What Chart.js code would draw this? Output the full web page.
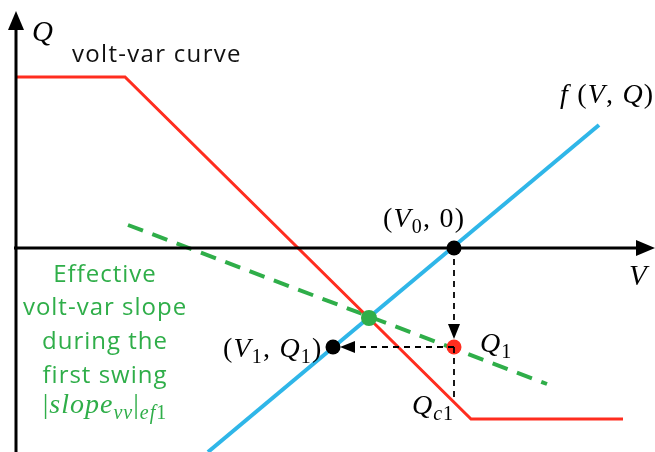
<!DOCTYPE html>
<html>
<head>
<meta charset="utf-8">
<script src="https://cdn.jsdelivr.net/npm/chart.js@4/dist/chart.umd.min.js"></script>
<style>
html,body{margin:0;padding:0;background:#fff;}
#wrap{width:655px;height:452px;position:relative;}
</style>
</head>
<body>
<div id="wrap"><canvas id="c"></canvas></div>
<script>
// ---- data (V, Q) in diagram units; origin at axis crossing ----
const voltVarV = [0, 109, 455, 607];
const voltVarQ = [171, 171, -171, -171];
const fLineV = [192, 583];
const fLineQ = [-204, 123];
const effSlopeV = [112, 531];
const effSlopeQ = [23, -136];
const V0 = 438, V1 = 317, Q1 = -99, Qc1 = -152;
const opV = [353], opQ = [-70];      // operating crossing point (green)

const zip = (xs, ys) => xs.map((x, i) => ({x, y: ys[i]}));

const RED = '#ff2d1f', BLUE = '#2fb6e8', GREEN = '#2fae49';

const overlay = {
  id: 'overlay',
  afterDatasetsDraw(chart) {
    const ctx = chart.ctx, xs = chart.scales.x, ys = chart.scales.y;
    const px = v => xs.getPixelForValue(v), py = q => ys.getPixelForValue(q);
    ctx.save();
    // axes
    ctx.strokeStyle = '#000'; ctx.fillStyle = '#000'; ctx.lineWidth = 3;
    ctx.beginPath(); ctx.moveTo(px(0), py(-210)); ctx.lineTo(px(0), py(220)); ctx.stroke();
    ctx.beginPath(); ctx.moveTo(px(-2), py(0)); ctx.lineTo(px(625), py(0)); ctx.stroke();
    // axis arrowheads
    ctx.beginPath(); ctx.moveTo(px(0), py(237)); ctx.lineTo(px(0) - 8, py(237) + 19); ctx.lineTo(px(0) + 8, py(237) + 19); ctx.closePath(); ctx.fill();
    ctx.beginPath(); ctx.moveTo(px(639), py(0)); ctx.lineTo(px(639) - 19, py(0) - 8); ctx.lineTo(px(639) - 19, py(0) + 8); ctx.closePath(); ctx.fill();
    // dashed guides
    ctx.lineWidth = 1.8; ctx.setLineDash([6, 5]);
    ctx.beginPath(); ctx.moveTo(px(V0), py(0)); ctx.lineTo(px(V0), py(Q1) - 14); ctx.stroke();
    ctx.beginPath(); ctx.moveTo(px(V0), py(Q1)); ctx.lineTo(px(V0), py(Qc1)); ctx.stroke();
    ctx.beginPath(); ctx.moveTo(px(V0), py(Q1)); ctx.lineTo(px(V1) + 18, py(Q1)); ctx.stroke();
    ctx.setLineDash([]);
    // arrowheads of guides
    let tx = px(V0), ty = py(Q1) - 8;
    ctx.beginPath(); ctx.moveTo(tx, ty); ctx.lineTo(tx - 6, ty - 15); ctx.lineTo(tx + 6, ty - 15); ctx.closePath(); ctx.fill();
    tx = px(V1) + 7; ty = py(Q1);
    ctx.beginPath(); ctx.moveTo(tx, ty); ctx.lineTo(tx + 15, ty - 6); ctx.lineTo(tx + 15, ty + 6); ctx.closePath(); ctx.fill();
    ctx.restore();
  },
  afterDraw(chart) {
    const ctx = chart.ctx, xs = chart.scales.x, ys = chart.scales.y;
    const px = v => xs.getPixelForValue(v), py = q => ys.getPixelForValue(q);
    const MATH = '"Liberation Serif", "DejaVu Serif", serif';
    const SANS = '"Open Sans", "Noto Sans", sans-serif';
    function rich(parts, x, y, size, color, align, spacing) {
      // parts: [text, kind] kind: 'i' italic, 'r' roman, 's' subscript italic, 'sr' subscript roman
      ctx.save();
      ctx.fillStyle = color; ctx.textBaseline = 'alphabetic'; ctx.textAlign = 'left';
      ctx.letterSpacing = (spacing || 0) + 'px';
      const fontOf = k => {
        const sub = k[0] === 's';
        const ital = (k === 'i' || k === 's');
        return (ital ? 'italic ' : '') + Math.round(sub ? size * 0.7 : size) + 'px ' + MATH;
      };
      let w = 0;
      parts.forEach(p => { ctx.font = fontOf(p[1]); w += ctx.measureText(p[0]).width; });
      let cx = align === 'center' ? x - w / 2 : x;
      parts.forEach(p => {
        ctx.font = fontOf(p[1]);
        const off = p[1][0] === 's' ? size * 0.22 : 0;
        ctx.fillText(p[0], cx, y + off);
        cx += ctx.measureText(p[0]).width;
      });
      ctx.restore();
    }
    ctx.save();
    // axis names
    rich([['Q', 'i']], px(0) + 16, py(0) - 207, 29, '#000');
    rich([['V', 'i']], px(0) + 613, py(0) + 37, 29, '#000');
    // volt-var curve title
    ctx.font = '24px ' + SANS; ctx.fillStyle = '#111'; ctx.textAlign = 'left'; ctx.textBaseline = 'alphabetic';
    ctx.letterSpacing = '1.3px';
    ctx.fillText('volt-var curve', px(0) + 56, py(0) - 186);
    rich([['f', 'i'], [' (', 'r'], ['V', 'i'], [', ', 'r'], ['Q', 'i'], [')', 'r']], px(0) + 544, py(0) - 145, 28, '#000', 'left', 1.2);
    rich([['(', 'r'], ['V', 'i'], ['0', 'sr'], [', 0)', 'r']], px(0) + 367, py(0) - 21, 28, '#000', 'left', 1.2);
    rich([['(', 'r'], ['V', 'i'], ['1', 'sr'], [', ', 'r'], ['Q', 'i'], ['1', 'sr'], [')', 'r']], px(0) + 207, py(0) + 109, 28, '#000', 'left', 1.2);
    rich([['Q', 'i'], ['1', 'sr']], px(0) + 464, py(0) + 104, 28, '#000', 'left', 1);
    rich([['Q', 'i'], ['c', 's'], ['1', 'sr']], px(0) + 396, py(0) + 166, 28, '#000', 'left', 1);
    // green annotation
    ctx.font = '24px ' + SANS; ctx.fillStyle = GREEN; ctx.textAlign = 'center';
    ctx.letterSpacing = '1px';
    const cxg = px(0) + 89;
    [['Effective', 34], ['volt-var slope', 67], ['during the', 101], ['first swing', 135]].forEach(t => {
      ctx.fillText(t[0], cxg, py(0) + t[1]);
    });
    ctx.letterSpacing = '0px';
    rich([['|', 'r'], ['slope', 'i'], ['vv', 's'], ['|', 'r'], ['ef', 's'], ['1', 'sr']], cxg, py(0) + 165, 28, GREEN, 'center', 1);
    ctx.restore();
  }
};

new Chart(document.getElementById('c'), {
  type: 'scatter',
  data: {
    datasets: [
      {data: zip(voltVarV, voltVarQ), showLine: true, borderColor: RED, borderWidth: 3, pointRadius: 0, order: 2},
      {data: zip(fLineV, fLineQ), showLine: true, borderColor: BLUE, borderWidth: 4, pointRadius: 0, order: 4},
      {data: zip(effSlopeV, effSlopeQ), showLine: true, borderColor: GREEN, borderWidth: 4, borderDash: [16, 10], pointRadius: 0, order: 3},
      {data: zip(opV, opQ), pointRadius: 8, backgroundColor: GREEN, borderWidth: 0, order: 1},
      {data: [{x: V0, y: 0}, {x: V1, y: Q1}], pointRadius: 7.5, backgroundColor: '#000', borderWidth: 0, order: 1},
      {data: [{x: V0, y: Q1}], pointRadius: 7.5, backgroundColor: RED, borderWidth: 0, order: 1}
    ]
  },
  options: {
    responsive: true, maintainAspectRatio: false, animation: false,
    layout: {padding: 0, autoPadding: false},
    plugins: {legend: {display: false}, tooltip: {enabled: false}},
    scales: {
      x: {type: 'linear', min: -16, max: 639, display: false},
      y: {type: 'linear', min: -204, max: 248, display: false}
    }
  },
  plugins: [overlay]
});
</script>
</body>
</html>
